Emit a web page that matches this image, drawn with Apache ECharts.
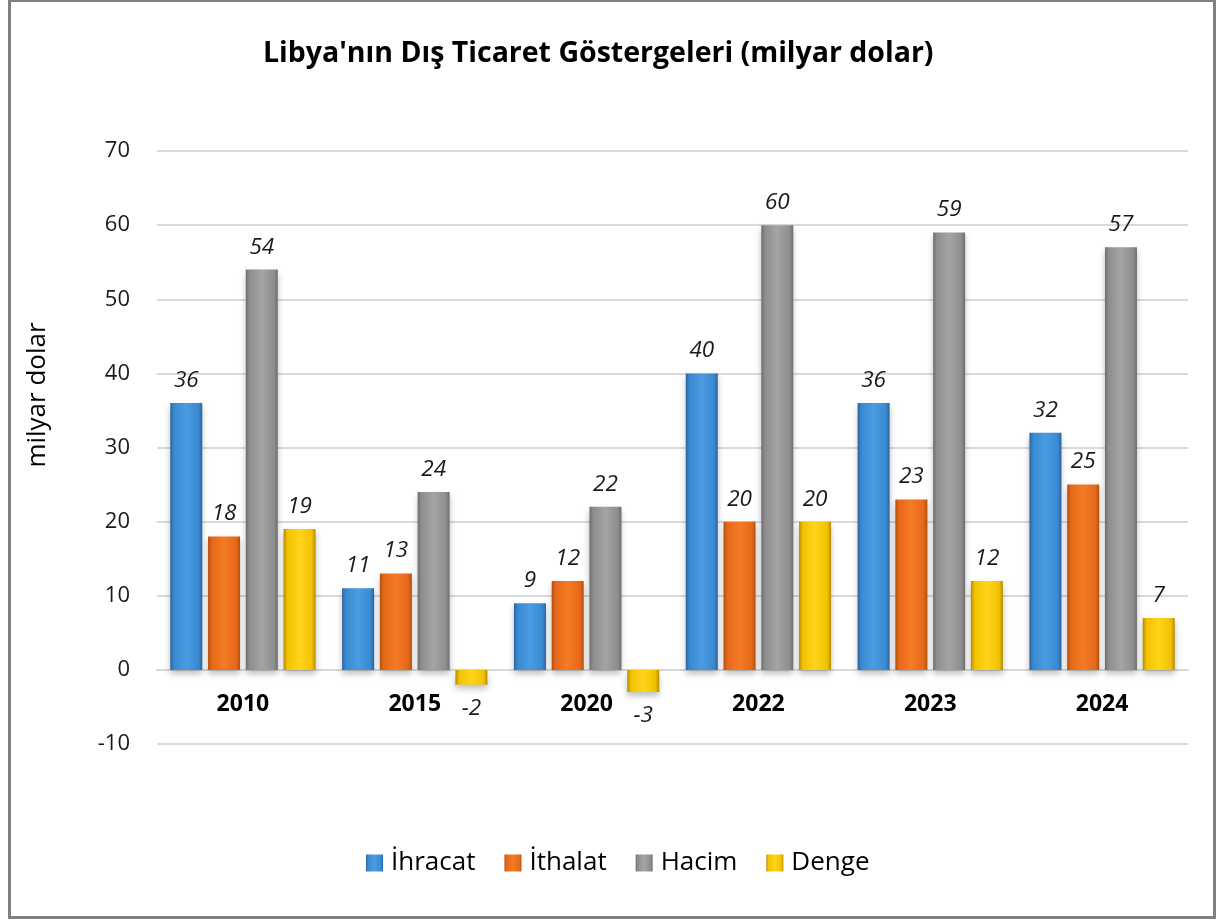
<!DOCTYPE html>
<html>
<head>
<meta charset="utf-8">
<script src="https://cdn.jsdelivr.net/npm/echarts@6/dist/echarts.min.js"></script>
<style>
  html, body { margin: 0; padding: 0; background: #fff; }
  #chart { width: 1219px; height: 919px; }
</style>
</head>
<body>
<div id="chart"></div>
<script>
// veriler
var years = ['2010', '2015', '2020', '2022', '2023', '2024'];
var ihracat = [36, 11, 9, 40, 36, 32];
var ithalat = [18, 13, 12, 20, 23, 25];
var hacim = [54, 24, 22, 60, 59, 57];
var denge = [19, -2, -3, 20, 12, 7];
var seriesNames = ['İhracat', 'İthalat', 'Hacim', 'Denge'];

// bevel-like gradient for each bar
var grad = function (edge, mid, light) {
    return {
        type: 'linear', x: 0, y: 0, x2: 1, y2: 0,
        colorStops: [
            { offset: 0, color: edge },
            { offset: 0.12, color: mid },
            { offset: 0.5, color: light },
            { offset: 0.88, color: mid },
            { offset: 1, color: edge }
        ]
    };
};
var colors = [
    grad('#2a64a0', '#3a8ad2', '#4a9be2'),
    grad('#b3500f', '#e6681a', '#f47c24'),
    grad('#6e6e6e', '#8e8e8e', '#a4a4a4'),
    grad('#b58c00', '#f2c200', '#ffd41c')
];

var makeData = function (arr) {
    return arr.map(function (v) {
        if (v < 0) {
            return { value: v, label: { position: 'bottom', distance: 12 } };
        }
        return v;
    });
};

var makeSeries = function (name, arr, idx) {
    return {
        name: name,
        type: 'bar',
        barWidth: 32,
        barGap: '18%',
        data: makeData(arr),
        itemStyle: {
            color: colors[idx],
            shadowColor: 'rgba(0,0,0,0.25)',
            shadowBlur: 6,
            shadowOffsetY: 4
        },
        label: {
            show: true,
            position: 'top',
            distance: 11,
            fontFamily: 'Open Sans',
            fontStyle: 'italic',
            fontSize: 22.5,
            color: '#1a1a1a'
        }
    };
};

var option = {
    backgroundColor: '#fff',
    animation: false,
    title: {
        text: "Libya'nın Dış Ticaret Göstergeleri (milyar dolar)",
        left: 258,
        top: 34,
        textStyle: {
            fontFamily: 'Open Sans',
            fontWeight: 'bold',
            fontSize: 28.5,
            color: '#000'
        }
    },
    legend: {
        data: seriesNames,
        bottom: 38,
        left: 361,
        icon: 'rect',
        itemWidth: 17,
        itemHeight: 17,
        itemGap: 29,
        textStyle: {
            fontFamily: 'Open Sans',
            fontSize: 26,
            color: '#000',
            padding: [0, 0, 0, 3]
        }
    },
    grid: {
        left: 157,
        right: 31,
        top: 151,
        bottom: 175,
        containLabel: false
    },
    xAxis: {
        type: 'category',
        data: years,
        offset: -74,
        axisTick: { show: false },
        axisLine: { show: true, onZero: false, lineStyle: { color: '#d9d9d9', width: 2 } },
        axisLabel: {
            margin: 23,
            fontFamily: 'Open Sans',
            fontWeight: 'bold',
            fontSize: 23,
            color: '#000'
        }
    },
    yAxis: {
        type: 'value',
        min: -10,
        max: 70,
        interval: 10,
        axisLine: { show: false },
        axisTick: { show: false },
        splitLine: { lineStyle: { color: '#d9d9d9', width: 2 } },
        axisLabel: {
            margin: 27,
            fontFamily: 'Open Sans',
            fontSize: 22,
            color: '#1a1a1a'
        }
    },
    graphic: [
        {
            type: 'rect',
            shape: { x: 9.5, y: 0.5, width: 1205, height: 917 },
            style: { fill: 'none', stroke: '#808080', lineWidth: 3 },
            silent: true
        },
        {
            type: 'text',
            x: 38,
            y: 395,
            rotation: Math.PI / 2,
            style: {
                text: 'milyar dolar',
                fontFamily: 'Open Sans',
                fontSize: 26,
                fill: '#000',
                align: 'center',
                verticalAlign: 'middle'
            }
        }
    ],
    series: [
        makeSeries(seriesNames[0], ihracat, 0),
        makeSeries(seriesNames[1], ithalat, 1),
        makeSeries(seriesNames[2], hacim, 2),
        makeSeries(seriesNames[3], denge, 3)
    ]
};

var chart = echarts.init(document.getElementById('chart'));
chart.setOption(option);
</script>
</body>
</html>
